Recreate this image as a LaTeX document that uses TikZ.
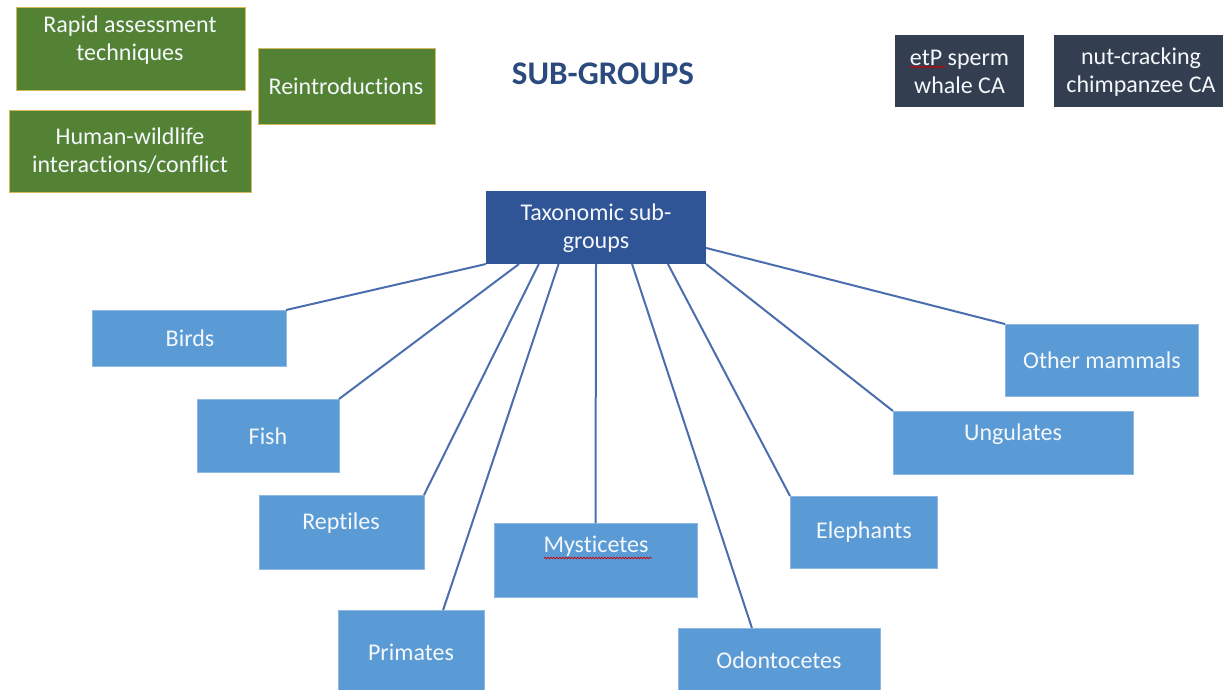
\documentclass[tikz,border=0pt]{standalone}
\usepackage{fontspec}
\setmainfont{Carlito}[Ligatures=NoCommon]
\usetikzlibrary{calc,decorations.pathmorphing}
\definecolor{grn}{HTML}{548235}
\definecolor{grnedge}{HTML}{D4B85A}
\definecolor{darkbox}{HTML}{333F50}
\definecolor{taxblue}{HTML}{2F5597}
\definecolor{lightblue}{HTML}{5B9BD5}
\definecolor{lightedge}{HTML}{8DB8E2}
\definecolor{linkblue}{HTML}{4A6EAE}
\definecolor{titleblue}{HTML}{2B4A7E}
\definecolor{txtwhite}{HTML}{F4F7FB}
\tikzset{
  box/.style={rectangle, inner sep=0pt, outer sep=0pt},
  greenbox/.style={box, fill=grn, draw=grnedge, line width=1pt},
  darkbx/.style={box, fill=darkbox, draw=none},
  taxbox/.style={box, fill=taxblue, draw=none},
  bluebox/.style={box, fill=lightblue, draw=lightedge, line width=0.6pt},
  lbl/.style={inner sep=0pt, text=txtwhite, font=\fontsize{24}{28}\selectfont, align=center},
  link/.style={draw=linkblue, line width=2pt},
  squiggle/.style={draw=red!80!black, line width=0.7pt, decorate, decoration={snake, amplitude=0.8pt, segment length=3pt}}
}
\begin{document}
\begin{tikzpicture}[x=1pt,y=-1pt]
\useasboundingbox (0,0) rectangle (1223,689);
\fill[white] (0,0) rectangle (1223,689);
\clip (0,0) rectangle (1223,689);

% green boxes
\node[greenbox, minimum width=229, minimum height=83] (rapid) at (130.5,48.5) {};
\node[lbl] (rapidT) at (130,40) {Rapid assessment\\techniques};
\node[greenbox, minimum width=177, minimum height=76] (reintro) at (346.5,86) {};
\node[lbl] (reintroT) at (346,86) {Reintroductions};
\node[greenbox, minimum width=242, minimum height=82] (human) at (130,151) {};
\node[lbl] (humanT) at (130,151) {Human-wildlife\\interactions/conflict};

% title
\node[inner sep=0pt, text=titleblue, font=\fontsize{33}{36}\selectfont\bfseries] (title) at (603,74) {SUB-GROUPS};

% dark boxes
\node[darkbx, minimum width=129, minimum height=72] (sperm) at (959.5,71) {};
\node[lbl] (spermT) at (959.5,72) {etP sperm\\whale CA};
\node[darkbx, minimum width=172, minimum height=72] (chimp) at (1140,71) {};
\node[lbl] (chimpT) at (1141,72) {nut-cracking\\chimpanzee CA};
\coordinate (sq1a) at (910,67);
\coordinate (sq1b) at (946,67);
\draw[squiggle] (sq1a) -- (sq1b);

% central node
\node[taxbox, minimum width=220, minimum height=73] (tax) at (596,227.5) {};
\node[lbl] (taxT) at (596,228) {Taxonomic sub-\\groups};

% leaf boxes
\node[bluebox, minimum width=194, minimum height=56] (birds) at (189,338) {};
\node[lbl] (birdsT) at (190,338) {Birds};
\node[bluebox, minimum width=142, minimum height=73] (fish) at (268,435.5) {};
\node[lbl] (fishT) at (268,436) {Fish};
\node[bluebox, minimum width=165, minimum height=74] (reptiles) at (341.5,532) {};
\node[lbl] (reptilesT) at (341,523) {Reptiles};
\node[bluebox, minimum width=146, minimum height=100] (primates) at (411,660) {};
\node[lbl] (primatesT) at (411,652) {Primates};
\node[bluebox, minimum width=203, minimum height=74] (myst) at (595.5,560) {};
\node[lbl] (mystT) at (596,546) {Mysticetes};
\coordinate (sq2a) at (544,558);
\coordinate (sq2b) at (652,558);
\draw[squiggle] (sq2a) -- (sq2b);
\node[bluebox, minimum width=202, minimum height=90] (odon) at (779,673) {};
\node[lbl] (odonT) at (779,660) {Odontocetes};
\node[bluebox, minimum width=147, minimum height=72] (eleph) at (863.5,532) {};
\node[lbl] (elephT) at (864,532) {Elephants};
\node[bluebox, minimum width=240, minimum height=63] (ungul) at (1013,442.5) {};
\node[lbl] (ungulT) at (1013,434) {Ungulates};
\node[bluebox, minimum width=193, minimum height=72] (other) at (1101.5,360) {};
\node[lbl] (otherT) at (1102,360) {Other mammals};

% connectors
\draw[link] (tax.south west) -- (birds.north east);
\draw[link] ($(tax.south west)!0.15!(tax.south east)$) -- (fish.north east);
\draw[link] ($(tax.south west)!0.24!(tax.south east)$) -- (reptiles.north east);
\draw[link] ($(tax.south west)!0.33!(tax.south east)$) -- ($(primates.north west)!0.72!(primates.north east)$);
\draw[link] (tax.south) -- (myst.north);
\draw[link] ($(tax.south west)!0.664!(tax.south east)$) -- ($(odon.north west)!0.366!(odon.north east)$);
\draw[link] ($(tax.south west)!0.827!(tax.south east)$) -- (eleph.north west);
\draw[link] (tax.south east) -- (ungul.north west);
\draw[link] ($(tax.north east)!0.78!(tax.south east)$) -- (other.north west);
\end{tikzpicture}
\end{document}
